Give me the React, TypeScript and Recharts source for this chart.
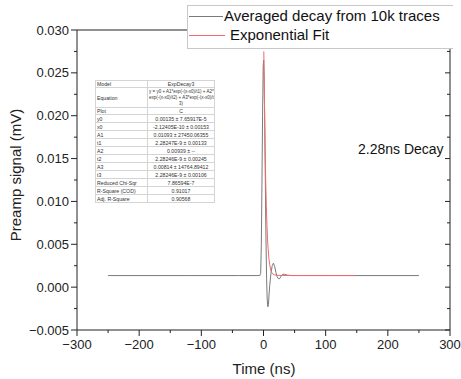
import { LineChart, Line, XAxis, YAxis } from "recharts";

// averaged trace (gray)
const traceTime = [
  -250, -120, -40, -6, -4.5, -3.5, -2.5, -1.5, -0.5, 0.3, 1, 2, 3, 4, 5, 6, 7, 8, 9, 10,
  12, 14, 16, 18, 20, 22, 24, 26, 28, 31, 34, 38, 45, 120, 250,
];
const traceSignal = [
  0.00135, 0.00135, 0.00135, 0.00135, 0.0016, 0.005, 0.012, 0.02, 0.0258, 0.0265, 0.0245,
  0.019, 0.012, 0.0055, 0.001, -0.0015, -0.0023, -0.002, -0.0008, 0.0002, 0.0016, 0.0025,
  0.0028, 0.0024, 0.0017, 0.0012, 0.00098, 0.001, 0.00125, 0.0015, 0.0015, 0.0014, 0.00135,
  0.00135, 0.00135,
];

// exponential fit (red)
const fitTime = [0.5, 1.5, 2.5, 3.5, 4.5, 5.5, 6.5, 7.5, 8.5, 10, 12, 14, 17, 22, 30, 148];
const fitSignal = [
  0.0275, 0.022, 0.0165, 0.0125, 0.0095, 0.0073, 0.0056, 0.0044, 0.0035, 0.0026, 0.0019,
  0.0016, 0.00145, 0.00138, 0.00136, 0.00135,
];

const xMajorTicks = [-300, -200, -100, 0, 100, 200, 300];
const xMinorTicks = [-250, -150, -50, 50, 150, 250];
const xTickLabels = ["\u2212300", "\u2212200", "\u2212100", "0", "100", "200", "300"];
const yMajorTicks = [-0.005, 0, 0.005, 0.01, 0.015, 0.02, 0.025, 0.03];
const yMinorTicks = [-0.0025, 0.0025, 0.0075, 0.0125, 0.0175, 0.0225, 0.0275];
const yTickLabels = ["\u22120.005", "0.000", "0.005", "0.010", "0.015", "0.020", "0.025", "0.030"];

const paramNames = [
  "Model", "Equation", "Plot", "y0", "x0", "A1", "t1", "A2", "t2", "A3", "t3",
  "Reduced Chi-Sqr", "R-Square (COD)", "Adj. R-Square",
];
const paramValues = [
  "ExpDecay3",
  "y = y0 + A1*exp(-(x-x0)/t1) + A2*\nexp(-(x-x0)/t2) + A3*exp(-(x-x0)/t\n3)",
  "C",
  "0.00135 \u00b1 7.65917E-5",
  "-2.12405E-10 \u00b1 0.00153",
  "0.01093 \u00b1 27450.06355",
  "2.28247E-9 \u00b1 0.00133",
  "0.00939 \u00b1 --",
  "2.28246E-9 \u00b1 0.00245",
  "0.00814 \u00b1 14764.89412",
  "2.28246E-9 \u00b1 0.00106",
  "7.86594E-7",
  "0.91017",
  "0.90568",
];

const trace = traceTime.map((t, i) => ({ t, v: traceSignal[i] }));
const fit = fitTime.map((t, i) => ({ t, v: fitSignal[i] }));

const font = "'Liberation Sans', Arial, sans-serif";
const axisColor = "#222";
const traceColor = "#7a7a7a";
const fitColor = "#f06a6a";

function LeftTick({ x, y, payload }: any) {
  const i = yMajorTicks.indexOf(payload.value);
  if (i < 0) return <line x1={x} x2={x - 3} y1={y} y2={y} stroke={axisColor} />;
  return (
    <g>
      <line x1={x} x2={x - 6} y1={y} y2={y} stroke={axisColor} />
      <text x={x - 8} y={y + 4.5} textAnchor="end" fontSize={13} fontFamily={font} fill="#222">
        {yTickLabels[i]}
      </text>
    </g>
  );
}

function BottomTick({ x, y, payload }: any) {
  const i = xMajorTicks.indexOf(payload.value);
  if (i < 0) return <line x1={x} x2={x} y1={y} y2={y + 3} stroke={axisColor} />;
  return (
    <g>
      <line x1={x} x2={x} y1={y} y2={y + 6} stroke={axisColor} />
      <text x={x} y={y + 19} textAnchor="middle" fontSize={13} fontFamily={font} fill="#222">
        {xTickLabels[i]}
      </text>
    </g>
  );
}

function TopTick({ x, y, payload }: any) {
  const len = xMajorTicks.includes(payload.value) ? 5 : 3;
  return <line x1={x} x2={x} y1={y} y2={y + len} stroke={axisColor} />;
}

function RightTick({ x, y, payload }: any) {
  const len = yMajorTicks.includes(payload.value) ? 5 : 3;
  return <line x1={x} x2={x - len} y1={y} y2={y} stroke={axisColor} />;
}

export default function App() {
  const cell = {
    borderBottom: "1px solid #d4d4d4",
    padding: "0 1px",
    lineHeight: "6px",
    whiteSpace: "pre" as const,
    overflow: "hidden",
  };
  return (
    <div style={{ position: "absolute", left: 0, top: 0, width: 461, height: 379, background: "#fff" }}>
      <LineChart width={461} height={379} margin={{ top: 0, right: 0, bottom: 0, left: 0 }}>
        <XAxis
          xAxisId="b"
          type="number"
          dataKey="t"
          domain={[-300, 300]}
          allowDataOverflow
          ticks={[...xMajorTicks, ...xMinorTicks].sort((a, b) => a - b)}
          interval={0}
          height={49}
          tickSize={0}
          tickMargin={0}
          tickLine={false}
          tick={<BottomTick />}
          axisLine={{ stroke: axisColor }}
          label={{
            content: () => (
              <text x={264} y={374} textAnchor="middle" fontSize={15} fontFamily={font} fill="#222">
                Time (ns)
              </text>
            ),
          }}
        />
        <XAxis
          xAxisId="top"
          orientation="top"
          type="number"
          domain={[-300, 300]}
          allowDataOverflow
          ticks={[...xMajorTicks, ...xMinorTicks].sort((a, b) => a - b)}
          interval={0}
          height={30}
          tickSize={0}
          tickMargin={0}
          tickLine={false}
          tick={<TopTick />}
          axisLine={{ stroke: axisColor }}
        />
        <YAxis
          yAxisId="l"
          type="number"
          domain={[-0.005, 0.03]}
          allowDataOverflow
          ticks={[...yMajorTicks, ...yMinorTicks].sort((a, b) => a - b)}
          interval={0}
          width={77}
          tickSize={0}
          tickMargin={0}
          tickLine={false}
          tick={<LeftTick />}
          axisLine={{ stroke: axisColor }}
          label={{
            content: () => (
              <text
                x={21}
                y={175}
                transform="rotate(-90 21 175)"
                textAnchor="middle"
                fontSize={15}
                fontFamily={font}
                fill="#222"
              >
                Preamp signal (mV)
              </text>
            ),
          }}
        />
        <YAxis
          yAxisId="r"
          orientation="right"
          type="number"
          domain={[-0.005, 0.03]}
          allowDataOverflow
          ticks={[...yMajorTicks, ...yMinorTicks].sort((a, b) => a - b)}
          interval={0}
          width={11}
          tickSize={0}
          tickMargin={0}
          tickLine={false}
          tick={<RightTick />}
          axisLine={{ stroke: axisColor }}
        />
        <Line
          xAxisId="b"
          yAxisId="l"
          data={trace}
          dataKey="v"
          type="linear"
          stroke={traceColor}
          strokeWidth={1}
          dot={false}
          isAnimationActive={false}
        />
        <Line
          xAxisId="b"
          yAxisId="l"
          data={fit}
          dataKey="v"
          type="linear"
          stroke={fitColor}
          strokeWidth={1}
          dot={false}
          isAnimationActive={false}
        />
      </LineChart>

      {/* legend box */}
      <div
        style={{
          position: "absolute",
          left: 187,
          top: 5,
          width: 265,
          height: 42,
          background: "#fff",
          border: "1px solid #c8c8c8",
          borderRight: "none",
          fontFamily: font,
          fontSize: 15,
          color: "#111",
        }}
      >
        <div style={{ position: "absolute", left: 1, top: 10, width: 34, height: 1, background: traceColor }} />
        <div style={{ position: "absolute", left: 36, top: 1, whiteSpace: "nowrap", lineHeight: "18px" }}>
          Averaged decay from 10k traces
        </div>
        <div style={{ position: "absolute", left: 1, top: 29, width: 36, height: 1, background: fitColor }} />
        <div style={{ position: "absolute", left: 42, top: 20, whiteSpace: "nowrap", lineHeight: "18px" }}>
          Exponential Fit
        </div>
      </div>

      {/* fit parameter table */}
      <table
        style={{
          position: "absolute",
          left: 95,
          top: 80,
          width: 119,
          tableLayout: "fixed",
          borderCollapse: "collapse",
          fontFamily: font,
          fontSize: 5.2,
          color: "#333",
          background: "#fff",
          border: "1px solid #d4d4d4",
        }}
      >
        <colgroup>
          <col style={{ width: 52 }} />
          <col style={{ width: 67 }} />
        </colgroup>
        <tbody>
          {paramNames.map((name, i) => (
            <tr key={name} style={{ height: i === 1 ? 20 : i === 0 || i === 2 ? 6.6 : 8 }}>
              <td style={{ ...cell, borderRight: "1px solid #d4d4d4", textAlign: "left" }}>{name}</td>
              <td style={{ ...cell, textAlign: "center", fontSize: i === 1 ? 4.5 : 5.2 }}>{paramValues[i]}</td>
            </tr>
          ))}
        </tbody>
      </table>

      <div
        style={{
          position: "absolute",
          left: 358,
          top: 141,
          fontFamily: font,
          fontSize: 14,
          color: "#111",
          whiteSpace: "nowrap",
        }}
      >
        2.28ns Decay
      </div>
    </div>
  );
}
